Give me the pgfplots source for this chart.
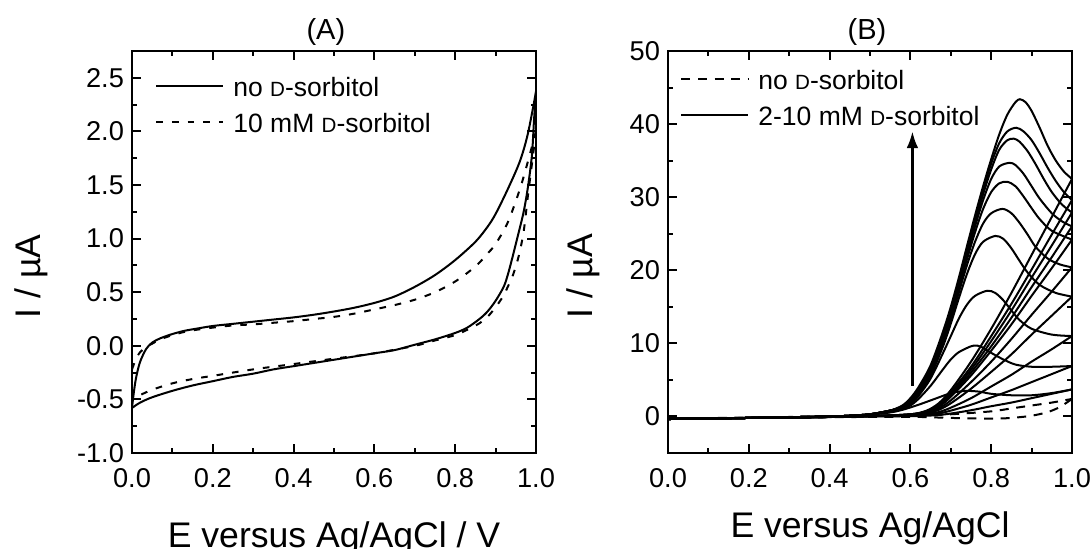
\documentclass[border=0pt]{standalone}
\usepackage{fontspec}
\setmainfont{Liberation Sans}
\usepackage{pgfplots}
\pgfplotsset{compat=1.18}
\usetikzlibrary{arrows.meta}
\newcommand{\scD}{{\fontsize{10.3}{12}\selectfont D}}
\newcommand{\lgfont}{\fontsize{13.25}{15}\selectfont}
\pgfplotsset{
  cvstyle/.style={
    scale only axis, width=202pt, height=201pt,
    axis line style={line width=1.2pt},
    every tick/.style={black, line width=1pt},
    major tick length=4.4pt, minor tick length=2.6pt,
    tick align=inside,
    xmin=0, xmax=1,
    xtick={0,0.2,0.4,0.6,0.8,1},
    minor x tick num=1, minor y tick num=1,
    tick label style={font=\fontsize{13.6}{15}\selectfont},
    /pgf/number format/assume math mode=true,
    xticklabel style={/pgf/number format/fixed, /pgf/number format/fixed zerofill, /pgf/number format/precision=1, anchor=base, yshift=-17.4pt},
    yticklabel style={xshift=-0.5pt},
    label style={font=\fontsize{17.8}{21}\selectfont},
    every axis title shift=0pt,
    title style={font=\fontsize{14.5}{17}\selectfont, anchor=center, yshift=9.75pt},
    legend image code/.code={\draw[#1] (0pt,0pt) -- (33.5pt,0pt);},
    legend cell align=left,
    legend style={draw=none, fill=none, inner sep=0pt, row sep=7.7pt,
      font=\lgfont,
      nodes={inner sep=0pt, font=\lgfont, text height=10.5pt, text depth=0pt},
      /tikz/every odd column/.append style={column sep=4.5pt}},
    cycle list={{black, mark=none}},
    every axis plot/.append style={line width=1pt, black, mark=none, smooth, tension=0.5},
  }
}
\begin{document}
\begin{tikzpicture}
\useasboundingbox (0,0) rectangle (546pt,274pt);
% ---------------- Panel A ----------------
\begin{axis}[cvstyle, at={(66pt,47.5pt)}, anchor=south west,
  ymin=-1, ymax=2.75, ytick={-1,-0.5,0,0.5,1,1.5,2,2.5},
  yticklabel style={/pgf/number format/fixed, /pgf/number format/fixed zerofill, /pgf/number format/precision=1},
  title={(A)}, title style={at={(axis description cs:0.48,1)}},
  xlabel={E versus Ag/AgCl / V},
  xlabel style={at={(axis description cs:0.5,0)}, anchor=base, yshift=-47pt},
  ylabel={I / µA},
  ylabel style={at={(axis description cs:-0.226,0.439)}, anchor=base},
  legend style={at={(axis description cs:0,1)}, anchor=north west, xshift=11.5pt, yshift=-12.05pt},
]
\addplot[black] coordinates {(0,-0.58) (0.004,-0.45) (0.01,-0.3) (0.02,-0.15) (0.035,-0.03) (0.05,0.03) (0.07,0.07) (0.1,0.11) (0.13,0.14) (0.16,0.16) (0.2,0.185) (0.25,0.205) (0.3,0.225) (0.35,0.245) (0.4,0.265) (0.45,0.29) (0.5,0.32) (0.55,0.355) (0.6,0.40) (0.65,0.46) (0.7,0.55) (0.75,0.66) (0.8,0.80) (0.85,0.97) (0.88,1.11) (0.9,1.23) (0.93,1.46) (0.96,1.72) (0.98,1.98) (1.0,2.37)};
\addlegendentry{no \scD-sorbitol}
\addplot[black, dash pattern=on 3.3pt off 4.5pt] coordinates {(0,-0.22) (0.01,-0.12) (0.02,-0.06) (0.035,-0.01) (0.05,0.02) (0.07,0.06) (0.1,0.10) (0.13,0.13) (0.16,0.15) (0.2,0.17) (0.25,0.19) (0.3,0.20) (0.35,0.215) (0.4,0.23) (0.45,0.25) (0.5,0.27) (0.55,0.30) (0.6,0.34) (0.65,0.38) (0.7,0.43) (0.75,0.50) (0.8,0.60) (0.85,0.74) (0.88,0.86) (0.9,0.95) (0.93,1.15) (0.96,1.46) (0.98,1.72) (1.0,2.0)};
\addlegendentry{10 mM \scD-sorbitol}
\addplot[black] coordinates {(1.0,2.37) (0.995,2.1) (0.99,1.78) (0.98,1.48) (0.97,1.26) (0.96,1.10) (0.95,0.95) (0.94,0.80) (0.93,0.66) (0.92,0.55) (0.9,0.42) (0.88,0.32) (0.86,0.25) (0.83,0.17) (0.8,0.12) (0.75,0.06) (0.7,0.01) (0.65,-0.04) (0.6,-0.07) (0.55,-0.10) (0.5,-0.13) (0.45,-0.16) (0.4,-0.19) (0.35,-0.22) (0.3,-0.26) (0.25,-0.29) (0.2,-0.33) (0.15,-0.37) (0.1,-0.42) (0.05,-0.48) (0.02,-0.53) (0,-0.58)};
\addplot[black, dash pattern=on 3.3pt off 4.5pt] coordinates {(1.0,2.0) (0.99,1.7) (0.98,1.4) (0.97,1.08) (0.96,0.88) (0.95,0.74) (0.94,0.63) (0.93,0.55) (0.92,0.47) (0.9,0.36) (0.88,0.27) (0.86,0.21) (0.83,0.15) (0.8,0.10) (0.75,0.05) (0.7,0.0) (0.6,-0.07) (0.5,-0.12) (0.4,-0.17) (0.3,-0.22) (0.2,-0.28) (0.15,-0.31) (0.1,-0.35) (0.05,-0.41) (0.02,-0.46) (0,-0.5)};
\end{axis}
% ---------------- Panel B ----------------
\begin{axis}[cvstyle, at={(334pt,47.5pt)}, anchor=south west,
  ymin=-5, ymax=50, ytick={0,10,20,30,40,50},
  title={(B)}, title style={at={(axis description cs:0.4926,1)}},
  xlabel={E versus Ag/AgCl},
  xlabel style={at={(axis description cs:0.5,0)}, anchor=base, yshift=-42.4pt},
  ylabel={I / µA},
  ylabel style={at={(axis description cs:-0.187,0.44)}, anchor=base},
  legend style={at={(axis description cs:0,1)}, anchor=north west, xshift=6pt, yshift=-8.55pt},
]
\addplot[black, dash pattern=on 4.5pt off 3.8pt] coordinates {(0,-0.3) (0.4,0) (0.6,0.1) (0.7,0.3) (0.8,0.7) (0.85,1.1) (0.9,1.5) (0.95,1.9) (1.0,2.4)};
\addlegendentry{no \scD-sorbitol}
% C1
\addplot[black] coordinates {(0,-0.35) (0.1,-0.3) (0.2,-0.2) (0.3,-0.1) (0.4,0.0) (0.45,0.1) (0.5,0.3) (0.55,0.8) (0.58,1.5) (0.60,2.5) (0.62,4.0) (0.65,7.0) (0.68,11.5) (0.70,15.0) (0.72,19.0) (0.74,23.3) (0.76,27.5) (0.78,31.5) (0.80,35.2) (0.82,38.6) (0.84,41.3) (0.86,43.0) (0.871,43.4) (0.885,43.0) (0.90,41.8) (0.92,39.5) (0.94,37.0) (0.96,35.0) (0.98,33.5) (1.0,32.5)};
\addlegendentry{2-10 mM \scD-sorbitol}
\addplot[black, dash pattern=on 4.5pt off 3.8pt, forget plot] coordinates {(1.0,2.4) (0.97,1.3) (0.94,0.6) (0.9,0.1) (0.85,-0.2) (0.8,-0.3) (0.7,-0.2) (0.6,-0.05) (0.4,-0.1) (0,-0.3)};
\addplot[black, forget plot] coordinates {(1.0,32.5) (0.95,27.3) (0.9,22.1) (0.85,16.9) (0.8,12.0) (0.75,7.5) (0.7,3.6) (0.67,1.8) (0.64,0.8) (0.6,0.3) (0.5,0.05) (0.3,-0.15) (0,-0.3)};
% C2
\addplot[black, forget plot] coordinates {(0,-0.35) (0.1,-0.3) (0.2,-0.2) (0.3,-0.1) (0.4,0.0) (0.45,0.1) (0.5,0.3) (0.55,0.8) (0.58,1.4) (0.60,2.3) (0.62,3.7) (0.65,6.6) (0.68,11.0) (0.70,14.5) (0.72,18.6) (0.74,22.8) (0.76,27.0) (0.78,31.0) (0.80,34.6) (0.82,37.4) (0.84,39.0) (0.862,39.5) (0.88,39.0) (0.90,37.8) (0.92,36.0) (0.94,34.0) (0.96,32.2) (0.98,30.7) (1.0,29.6)};
\addplot[black, forget plot] coordinates {(1.0,29.6) (0.95,24.9) (0.9,20.1) (0.85,15.4) (0.8,11.0) (0.75,6.8) (0.7,3.3) (0.67,1.6) (0.64,0.7) (0.6,0.3) (0.5,0.05) (0.3,-0.15) (0,-0.3)};
% C3
\addplot[black, forget plot] coordinates {(0,-0.35) (0.1,-0.3) (0.2,-0.2) (0.3,-0.1) (0.4,0.0) (0.45,0.1) (0.5,0.3) (0.55,0.8) (0.58,1.4) (0.60,2.2) (0.62,3.5) (0.65,6.4) (0.68,10.7) (0.70,14.2) (0.72,18.3) (0.74,22.5) (0.76,26.6) (0.78,30.4) (0.80,33.8) (0.82,36.5) (0.84,37.8) (0.856,38.0) (0.87,37.6) (0.89,36.3) (0.91,34.5) (0.93,32.5) (0.95,30.7) (0.975,29.0) (1.0,27.9)};
\addplot[black, forget plot] coordinates {(1.0,27.9) (0.95,23.4) (0.9,19.0) (0.85,14.5) (0.8,10.3) (0.75,6.4) (0.7,3.1) (0.67,1.5) (0.64,0.7) (0.6,0.3) (0.5,0.05) (0.3,-0.15) (0,-0.3)};
% C4
\addplot[black, forget plot] coordinates {(0,-0.35) (0.1,-0.3) (0.2,-0.2) (0.3,-0.1) (0.4,0.0) (0.45,0.1) (0.5,0.3) (0.55,0.8) (0.58,1.3) (0.60,2.1) (0.62,3.4) (0.65,6.2) (0.68,10.4) (0.70,13.9) (0.72,17.9) (0.74,22.0) (0.76,26.0) (0.78,29.6) (0.80,32.5) (0.82,34.2) (0.845,34.7) (0.86,34.4) (0.88,33.2) (0.90,31.5) (0.92,29.8) (0.95,27.8) (0.975,26.7) (1.0,26.0)};
\addplot[black, forget plot] coordinates {(1.0,26.0) (0.95,21.8) (0.9,17.7) (0.85,13.5) (0.8,9.6) (0.75,6.0) (0.7,2.9) (0.67,1.4) (0.64,0.65) (0.6,0.26) (0.5,0.05) (0.3,-0.15) (0,-0.3)};
% C5
\addplot[black, forget plot] coordinates {(0,-0.35) (0.1,-0.3) (0.2,-0.2) (0.3,-0.1) (0.4,0.0) (0.45,0.1) (0.5,0.3) (0.55,0.8) (0.58,1.3) (0.60,2.0) (0.62,3.2) (0.65,6.0) (0.68,10.1) (0.70,13.6) (0.72,17.6) (0.74,21.5) (0.76,25.2) (0.78,28.4) (0.80,30.7) (0.82,31.9) (0.84,32.1) (0.86,31.5) (0.88,30.1) (0.90,28.5) (0.92,27.0) (0.95,25.4) (1.0,24.2)};
\addplot[black, forget plot] coordinates {(1.0,24.2) (0.95,20.3) (0.9,16.5) (0.85,12.6) (0.8,9.0) (0.75,5.6) (0.7,2.7) (0.67,1.3) (0.64,0.6) (0.6,0.24) (0.5,0.05) (0.3,-0.15) (0,-0.3)};
% C6
\addplot[black, forget plot] coordinates {(0,-0.35) (0.1,-0.3) (0.2,-0.2) (0.3,-0.1) (0.4,0.0) (0.45,0.1) (0.5,0.3) (0.55,0.8) (0.58,1.2) (0.60,1.9) (0.62,3.1) (0.65,5.8) (0.68,9.8) (0.70,13.2) (0.72,17.0) (0.74,20.7) (0.76,23.9) (0.78,26.4) (0.80,27.8) (0.828,28.4) (0.85,27.8) (0.87,26.5) (0.89,24.9) (0.91,23.2) (0.94,21.6) (0.97,20.8) (1.0,20.4)};
\addplot[black, forget plot] coordinates {(1.0,20.4) (0.95,17.1) (0.9,13.9) (0.85,10.6) (0.8,7.5) (0.75,4.7) (0.7,2.2) (0.67,1.1) (0.64,0.5) (0.6,0.2) (0.5,0.05) (0.3,-0.15) (0,-0.3)};
% C7
\addplot[black, forget plot] coordinates {(0,-0.35) (0.1,-0.3) (0.2,-0.2) (0.3,-0.1) (0.4,0.0) (0.45,0.1) (0.5,0.3) (0.55,0.8) (0.58,1.2) (0.60,1.8) (0.62,3.0) (0.65,5.6) (0.68,9.5) (0.70,12.7) (0.72,16.2) (0.74,19.5) (0.76,22.2) (0.78,23.9) (0.81,24.7) (0.83,24.3) (0.85,23.0) (0.87,21.3) (0.89,19.7) (0.92,18.0) (0.96,16.9) (1.0,16.4)};
\addplot[black, forget plot] coordinates {(1.0,16.4) (0.95,13.8) (0.9,11.2) (0.85,8.5) (0.8,6.1) (0.75,3.8) (0.7,1.8) (0.67,0.9) (0.64,0.4) (0.6,0.16) (0.5,0.05) (0.3,-0.15) (0,-0.3)};
% C8
\addplot[black, forget plot] coordinates {(0,-0.35) (0.1,-0.3) (0.2,-0.2) (0.3,-0.1) (0.4,0.0) (0.45,0.1) (0.5,0.3) (0.55,0.7) (0.58,1.1) (0.60,1.7) (0.62,2.8) (0.65,5.2) (0.68,8.6) (0.70,11.0) (0.72,13.4) (0.74,15.3) (0.76,16.5) (0.79,17.2) (0.81,16.9) (0.83,15.9) (0.85,14.5) (0.87,13.2) (0.90,12.0) (0.95,11.2) (1.0,11.0)};
\addplot[black, forget plot] coordinates {(1.0,11.0) (0.95,9.2) (0.9,7.5) (0.85,5.7) (0.8,4.1) (0.75,2.5) (0.7,1.2) (0.67,0.6) (0.64,0.3) (0.6,0.1) (0.5,0.05) (0.3,-0.15) (0,-0.3)};
% C9
\addplot[black, forget plot] coordinates {(0,-0.35) (0.1,-0.3) (0.2,-0.2) (0.3,-0.1) (0.4,0.0) (0.45,0.1) (0.5,0.25) (0.55,0.6) (0.58,1.0) (0.60,1.5) (0.62,2.4) (0.65,4.2) (0.68,6.4) (0.70,7.8) (0.72,8.8) (0.75,9.6) (0.765,9.7) (0.78,9.4) (0.80,8.7) (0.83,7.8) (0.86,7.1) (0.90,6.8) (0.95,6.8) (1.0,6.9)};
\addplot[black, forget plot] coordinates {(1.0,6.9) (0.95,5.8) (0.9,4.7) (0.85,3.6) (0.8,2.6) (0.75,1.6) (0.7,0.8) (0.67,0.4) (0.64,0.2) (0.6,0.07) (0.5,0.02) (0.3,-0.15) (0,-0.3)};
% C10
\addplot[black, forget plot] coordinates {(0,-0.35) (0.1,-0.3) (0.2,-0.2) (0.3,-0.1) (0.4,0.0) (0.45,0.1) (0.5,0.25) (0.55,0.55) (0.58,0.9) (0.62,1.6) (0.66,2.4) (0.70,3.2) (0.72,3.4) (0.74,3.5) (0.77,3.4) (0.80,3.1) (0.85,2.9) (0.90,2.9) (0.95,3.2) (1.0,3.7)};
\addplot[black, forget plot] coordinates {(1.0,3.7) (0.95,3.1) (0.9,2.5) (0.85,1.9) (0.8,1.4) (0.75,0.85) (0.7,0.4) (0.67,0.2) (0.64,0.1) (0.6,0.04) (0.5,0.0) (0.3,-0.15) (0,-0.3)};
\draw[line width=1.2pt, -{Latex[length=8.3pt, width=5.8pt]}] (axis cs:0.605,4.2) -- (axis cs:0.605,39);
\end{axis}
\end{tikzpicture}
\end{document}
